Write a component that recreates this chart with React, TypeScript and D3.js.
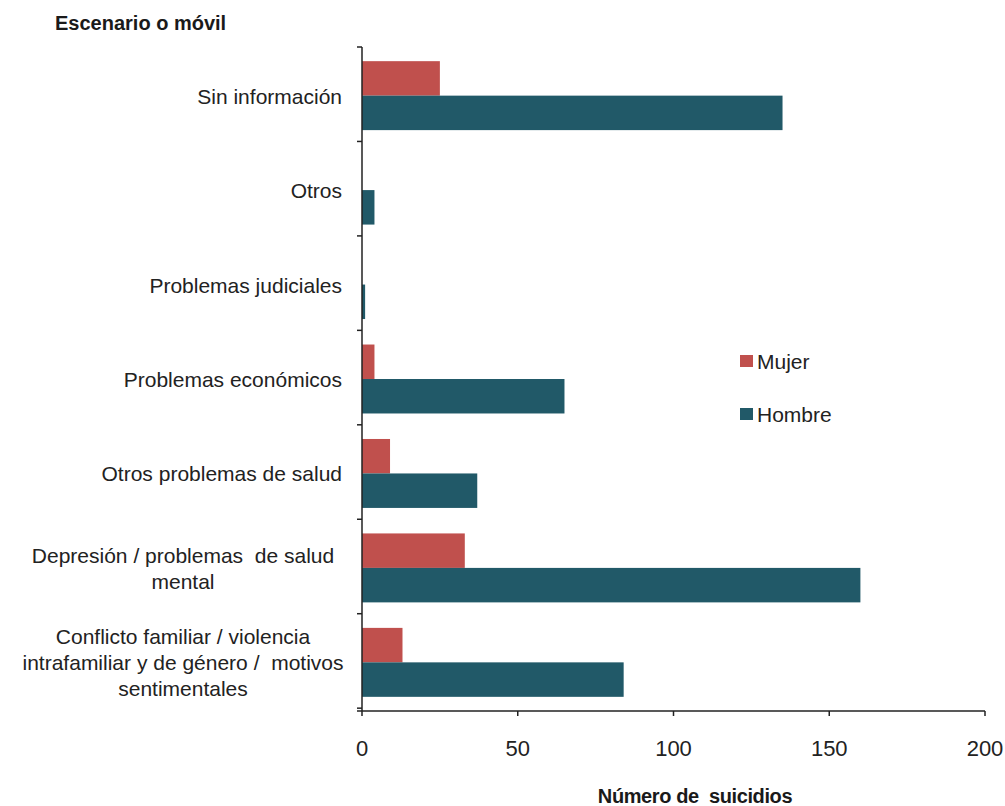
import React from "react";
import * as d3 from "d3";

const categories: string[][] = [
  ["Sin información"],
  ["Otros"],
  ["Problemas judiciales"],
  ["Problemas económicos"],
  ["Otros problemas de salud"],
  ["Depresión / problemas  de salud", "mental"],
  ["Conflicto familiar / violencia", "intrafamiliar y de género /  motivos", "sentimentales"],
];
const mujer = [25, 0, 0, 4, 9, 33, 13];
const hombre = [135, 4, 1, 65, 37, 160, 84];
const series = [
  { name: "Mujer", values: mujer, color: "#C0504D" },
  { name: "Hombre", values: hombre, color: "#215968" },
];
const xTicks = [0, 50, 100, 150, 200];

export default function App() {
  const W = 1005, H = 806;
  const left = 362, right = 985, top = 47, bottom = 711;
  const x = d3.scaleLinear().domain([0, 200]).range([left, right]);
  const y = d3.scaleBand<number>().domain(categories.map((_, i) => i)).range([top, bottom]).paddingInner(0.27).paddingOuter(0.15);
  const sub = d3.scaleBand<string>().domain(series.map(s => s.name)).range([0, y.bandwidth()]);
  const step = y.step();
  const font = "'Liberation Sans', Arial, sans-serif";
  return (
    <svg width={W} height={H} style={{ position: "absolute", left: 0, top: 0, background: "#fff" }} fontFamily={font}>
      <text x={55} y={30} fontSize={20} fontWeight="bold" fill="#1a1a1a" letterSpacing={0}>Escenario o móvil</text>
      {series.map(s => s.values.map((v, i) => (
        <rect key={s.name + i} x={x(0)} y={(y(i) as number) + (sub(s.name) as number)} width={x(v) - x(0)} height={sub.bandwidth()} fill={s.color} />
      )))}
      <line x1={left} x2={left} y1={top} y2={bottom} stroke="#222" strokeWidth={1.5} />
      {d3.range(categories.length + 1).map(i => (
        <line key={"yt" + i} x1={left - 5} x2={left} y1={top + i * step} y2={top + i * step} stroke="#222" strokeWidth={1.5} />
      ))}
      <line x1={left - 5} x2={right} y1={bottom} y2={bottom} stroke="#222" strokeWidth={1.5} />
      {xTicks.map(t => (
        <g key={"xt" + t}>
          <line x1={x(t)} x2={x(t)} y1={bottom} y2={bottom + 5} stroke="#222" strokeWidth={1.5} />
          <text x={x(t)} y={756} fontSize={22} textAnchor="middle" fill="#222">{t}</text>
        </g>
      ))}
      {categories.map((lines, i) => {
        const cy = (y(i) as number) + y.bandwidth() / 2;
        const lh = 26;
        const y0 = cy - ((lines.length - 1) * lh) / 2 + 8;
        const multi = lines.length > 1;
        return lines.map((ln, j) => (
          <text key={"c" + i + j} x={multi ? 183 : 342} y={y0 + j * lh} fontSize={21} textAnchor={multi ? "middle" : "end"} fill="#222" style={{ whiteSpace: "pre" }}>{ln}</text>
        ));
      })}
      {series.map((s, k) => (
        <g key={"lg" + s.name}>
          <rect x={740} y={355 + k * 53} width={13} height={12} fill={s.color} />
          <text x={757} y={369 + k * 53} fontSize={21} fill="#222">{s.name}</text>
        </g>
      ))}
      <text x={695} y={803} fontSize={20} fontWeight="bold" textAnchor="middle" fill="#1a1a1a" letterSpacing={-0.4} style={{ whiteSpace: "pre" }}>Número de  suicidios</text>
    </svg>
  );
}
